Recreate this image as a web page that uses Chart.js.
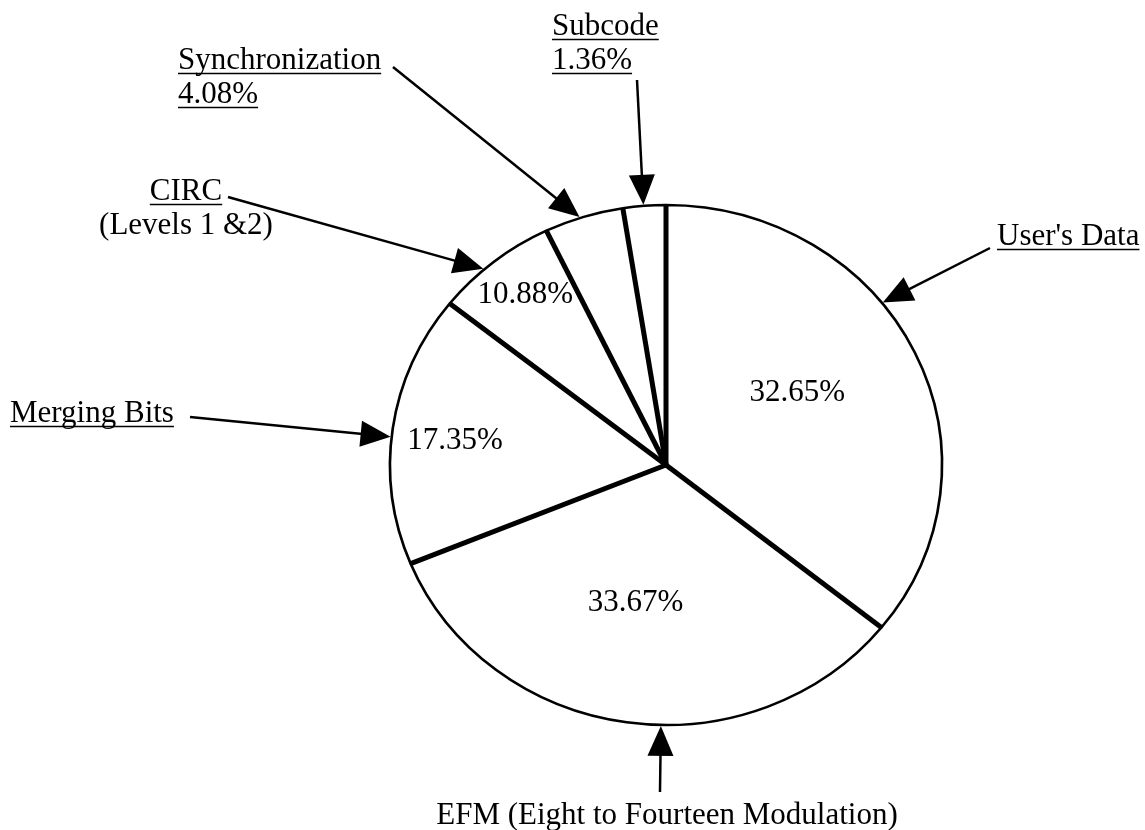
<!DOCTYPE html>
<html>
<head>
<meta charset="utf-8">
<script src="https://cdn.jsdelivr.net/npm/chart.js@4/dist/chart.umd.min.js"></script>
<style>
  html, body { margin: 0; padding: 0; background: #fff; }
  #wrap { width: 1145px; height: 830px; position: relative; }
</style>
</head>
<body>
<div id="wrap"><canvas id="pie"></canvas></div>
<script>
// ---- data ----
const categories = ["User's Data", "EFM (Eight to Fourteen Modulation)", "Merging Bits", "CIRC", "Synchronization", "Subcode"];
const notes = ["", "", "", "(Levels 1 &2)", "", ""];
const percentText = ["32.65%", "33.67%", "17.35%", "10.88%", "4.08%", "1.36%"];
// slice sizes as they are drawn in the figure (degrees), clockwise from 12 o'clock
const sliceDegrees = [128.7, 119.0, 60.7, 25.9, 16.7, 9.0];
// which percentages sit inside their slice
const pctInside = [true, true, true, true, false, false];

// ---- layout ----
const SX = 276 / 260;          // the pie in the figure is a slightly wide ellipse
const FONT = '31px "Liberation Serif", "Times New Roman", serif';
const LINE_H = 34;
// inside label: position along the slice (0..1) and distance from centre (0..1)
const insideAt = [[0.465, 0.55], [0.53, 0.54], [0.48, 0.77], [0.53, 0.83]];
// outside labels: text anchor, alignment, arrow tail and where the arrow hits the slice
const outside = [
  { x: 997, y: 245, align: 'left',   under: [true],        tail: [990, 248], hit: 0.40 },
  { x: 667, y: 824, align: 'center', under: [false],       tail: [660, 792], hit: 0.44 },
  { x: 10,  y: 422, align: 'left',   under: [true],        tail: [190, 417], hit: 0.47 },
  { x: 186, y: 200, align: 'center', under: [true, false], tail: [228, 197], hit: 0.40 },
  { x: 178, y: 69,  align: 'left',   under: [true, true],  tail: [393, 67],  hit: 0.45 },
  { x: 552, y: 35,  align: 'left',   under: [true, true],  tail: [637, 80],  hit: 0.48 },
];

function onEllipse(a, ang, rr) {
  return { x: a.x + rr * SX * Math.cos(ang), y: a.y + rr * Math.sin(ang) };
}

function arrow(ctx, from, tip) {
  const dx = tip.x - from[0], dy = tip.y - from[1];
  const len = Math.hypot(dx, dy), ux = dx / len, uy = dy / len;
  const headL = 30, headW = 13;
  const bx = tip.x - ux * headL, by = tip.y - uy * headL;
  ctx.lineWidth = 2.5;
  ctx.beginPath();
  ctx.moveTo(from[0], from[1]);
  ctx.lineTo(bx + ux * 2, by + uy * 2);
  ctx.stroke();
  ctx.beginPath();
  ctx.moveTo(tip.x, tip.y);
  ctx.lineTo(bx - uy * headW, by + ux * headW);
  ctx.lineTo(bx + uy * headW, by - ux * headW);
  ctx.closePath();
  ctx.fill();
}

function textLine(ctx, str, x, y, align, underline) {
  ctx.textAlign = align;
  ctx.textBaseline = 'alphabetic';
  ctx.fillText(str, x, y);
  if (underline) {
    const w = ctx.measureText(str).width;
    const x0 = align === 'center' ? x - w / 2 : x;
    ctx.lineWidth = 1.5;
    ctx.beginPath();
    ctx.moveTo(x0, y + 4.5);
    ctx.lineTo(x0 + w, y + 4.5);
    ctx.stroke();
  }
}

const figurePlugin = {
  id: 'figure',
  beforeDatasetsDraw(chart) {
    const a = chart.getDatasetMeta(0).data[0];
    const ctx = chart.ctx;
    ctx.save();
    ctx.translate(a.x, a.y);
    ctx.scale(SX, 1);
    ctx.translate(-a.x, -a.y);
  },
  afterDatasetsDraw(chart) {
    const ctx = chart.ctx;
    ctx.restore();
    const arcs = chart.getDatasetMeta(0).data;
    ctx.save();
    ctx.strokeStyle = '#000';
    ctx.fillStyle = '#000';

    // thick dividing lines between slices
    ctx.lineWidth = 5;
    ctx.lineCap = 'butt';
    arcs.forEach(a => {
      const p = onEllipse(a, a.startAngle, a.outerRadius);
      ctx.beginPath();
      ctx.moveTo(a.x, a.y);
      ctx.lineTo(p.x, p.y);
      ctx.stroke();
    });

    ctx.font = FONT;
    // percentages inside slices
    arcs.forEach((a, i) => {
      if (!pctInside[i]) return;
      const [f, r] = insideAt[i];
      const p = onEllipse(a, a.startAngle + f * (a.endAngle - a.startAngle), a.outerRadius * r);
      ctx.textAlign = 'center';
      ctx.textBaseline = 'middle';
      ctx.fillText(percentText[i], p.x, p.y);
    });

    // outside labels with arrows
    arcs.forEach((a, i) => {
      const o = outside[i];
      const lines = [categories[i]];
      if (notes[i]) lines.push(notes[i]);
      if (!pctInside[i]) lines.push(percentText[i]);
      lines.forEach((s, k) => textLine(ctx, s, o.x, o.y + k * LINE_H, o.align, o.under[k]));
      const tip = onEllipse(a, a.startAngle + o.hit * (a.endAngle - a.startAngle), a.outerRadius + 1);
      arrow(ctx, o.tail, tip);
    });
    ctx.restore();
  }
};

new Chart(document.getElementById('pie'), {
  type: 'pie',
  data: {
    labels: categories,
    datasets: [{
      data: sliceDegrees,
      backgroundColor: '#ffffff',
      borderColor: '#000000',
      borderWidth: 2.5,
      hoverOffset: 0,
    }]
  },
  options: {
    responsive: true,
    maintainAspectRatio: false,
    animation: false,
    events: [],
    radius: 260,
    layout: { padding: { top: 205, bottom: 105, left: 406, right: 219 } },
    plugins: { legend: { display: false }, tooltip: { enabled: false } }
  },
  plugins: [figurePlugin]
});
</script>
</body>
</html>
